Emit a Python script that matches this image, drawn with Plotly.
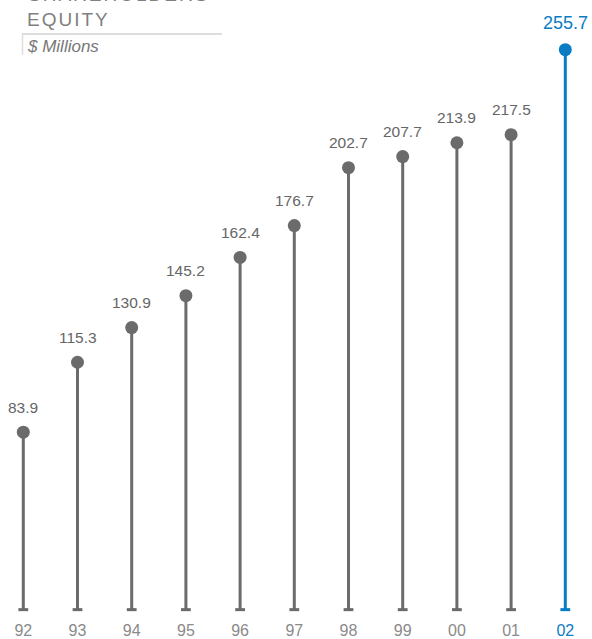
import plotly.graph_objects as go

years = ["92", "93", "94", "95", "96", "97", "98", "99", "00", "01", "02"]
equity = [83.9, 115.3, 130.9, 145.2, 162.4, 176.7, 202.7, 207.7, 213.9, 217.5, 255.7]
labels = ["83.9", "115.3", "130.9", "145.2", "162.4", "176.7", "202.7", "207.7", "213.9", "217.5", "255.7"]
stick_base = 4.2

GRAY = "#6b6b6b"
BLUE = "#0a7cc4"
FONT = "Liberation Sans, Arial, sans-serif"

n = len(years)
xs = list(range(n))
colors = [GRAY] * (n - 1) + [BLUE]

fig = go.Figure()

for i, v in enumerate(equity):
    c = colors[i]
    fig.add_trace(go.Scatter(x=[i, i], y=[stick_base, v], mode="lines",
                             line=dict(color=c, width=3), hoverinfo="skip"))

fig.add_trace(go.Scatter(x=xs, y=equity, mode="markers",
                         marker=dict(color=colors, size=13, line=dict(width=0)),
                         hoverinfo="skip"))
fig.add_trace(go.Scatter(x=xs, y=[stick_base] * n, mode="markers",
                         marker=dict(symbol="line-ew", size=7,
                                     line=dict(color=colors, width=3)),
                         hoverinfo="skip"))

annotations = []
for i, v in enumerate(equity):
    last = i == n - 1
    annotations.append(dict(
        x=i, y=v, xref="x", yref="y", text=labels[i], showarrow=False,
        yshift=27 if last else 25,
        font=dict(family=FONT, size=18 if last else 15.5, color=BLUE if last else "#666666"),
    ))

H = 621.0
annotations += [
    dict(x=26 / 592, y=1 + 6 / H, xref="paper", yref="paper", xanchor="left", yanchor="middle",
         text='<span style="letter-spacing:2px">SHAREHOLDERS</span>', showarrow=False,
         font=dict(family=FONT, size=19, color="#808080")),
    dict(x=25 / 592, y=1 - 20 / H, xref="paper", yref="paper", xanchor="left", yanchor="middle",
         text='<span style="letter-spacing:2px">EQUITY</span>', showarrow=False,
         font=dict(family=FONT, size=19, color="#808080")),
    dict(x=25 / 592, y=1 - 47 / H, xref="paper", yref="paper", xanchor="left", yanchor="middle",
         text="<i>$ Millions</i>", showarrow=False,
         font=dict(family=FONT, size=17, color="#777777")),
]

shapes = [
    dict(type="line", xref="paper", yref="paper", x0=22 / 592, x1=222 / 592,
         y0=1 - 34 / H, y1=1 - 34 / H, line=dict(color="#dddddd", width=2)),
    dict(type="line", xref="paper", yref="paper", x0=22.5 / 592, x1=22.5 / 592,
         y0=1 - 34 / H, y1=1 - 55 / H, line=dict(color="#dddddd", width=1.5)),
]

ticktext = years[:-1] + [f'<span style="color:{BLUE}">{years[-1]}</span>']

fig.update_layout(
    width=592, height=639,
    margin=dict(l=0, r=0, t=0, b=18),
    paper_bgcolor="white", plot_bgcolor="white",
    showlegend=False,
    annotations=annotations,
    shapes=shapes,
    xaxis=dict(range=[-23.3 / 54.2, (592 - 23.3) / 54.2], tickvals=xs, ticktext=ticktext,
               showgrid=False, zeroline=False, showline=False, ticks="",
               tickfont=dict(family=FONT, size=16, color="#8a8a8a"), fixedrange=True),
    yaxis=dict(range=[0, 278], visible=False, showgrid=False, zeroline=False, fixedrange=True),
)

fig.write_html("out.html", config={"displayModeBar": False},
               post_script="document.body.style.margin='0';document.body.style.overflow='hidden';")
